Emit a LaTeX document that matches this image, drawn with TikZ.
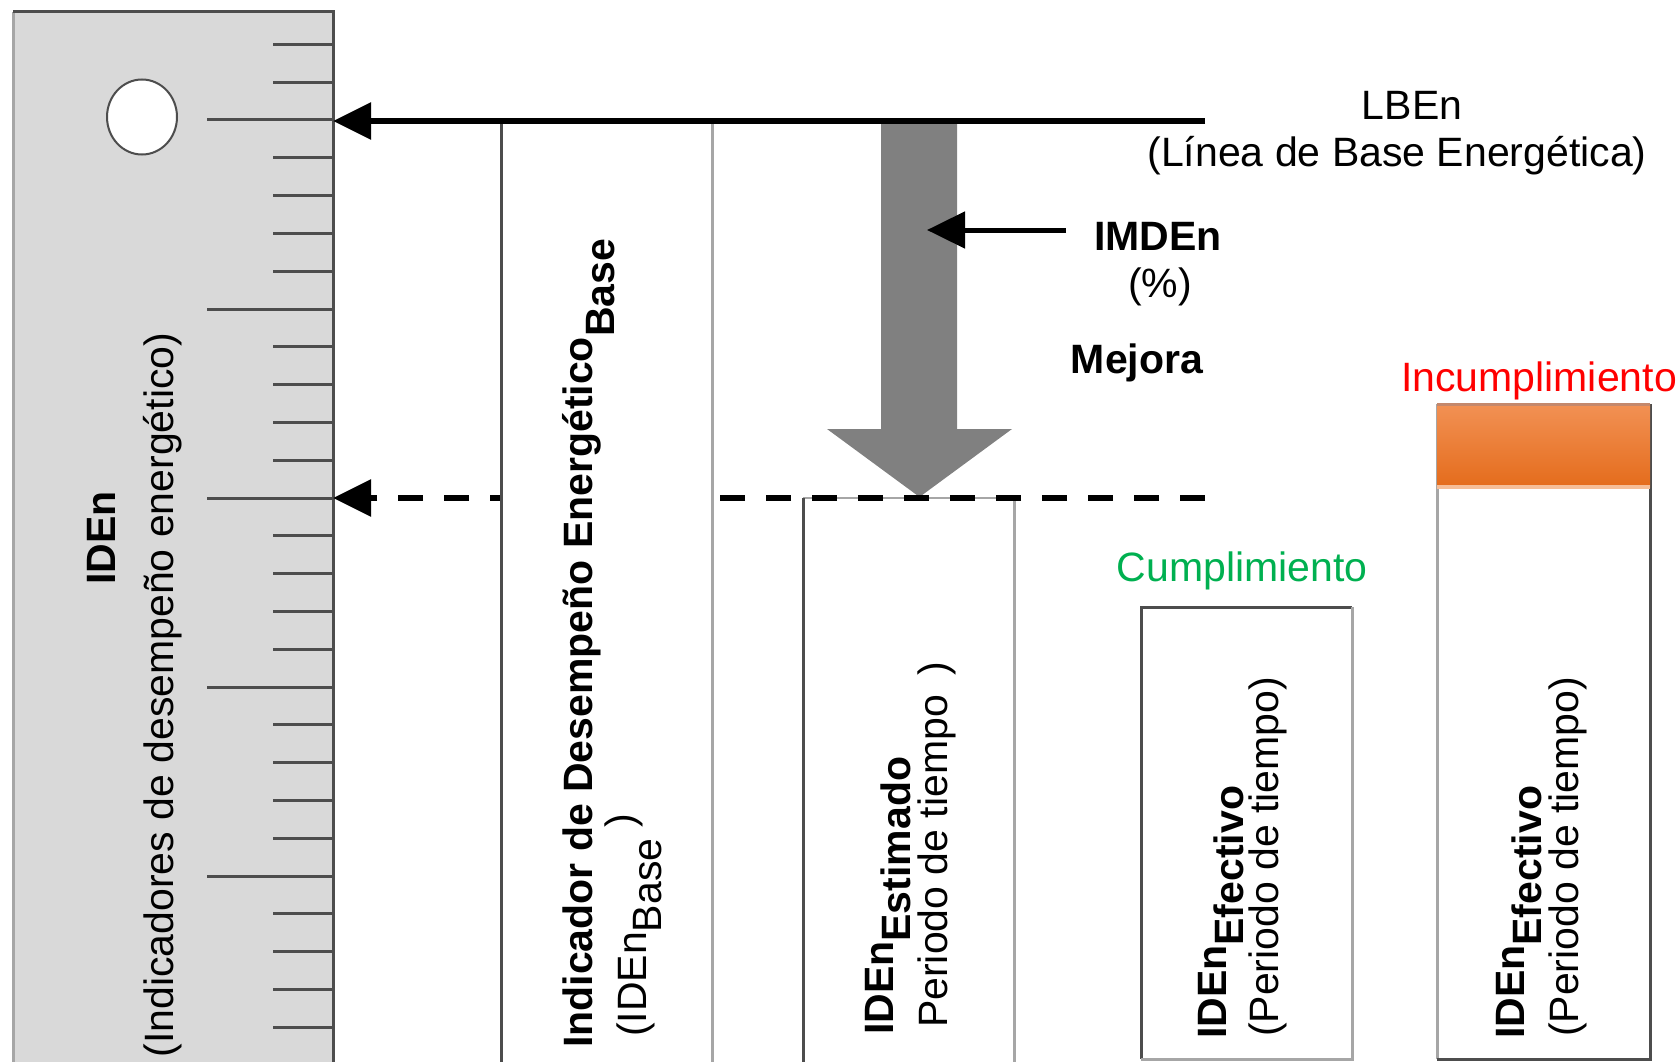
\documentclass[tikz,border=0pt]{standalone}
\usepackage{fontspec}
\setmainfont{Liberation Sans}
\usetikzlibrary{arrows.meta,calc,positioning,shapes.geometric}
\definecolor{rulergray}{HTML}{D9D9D9}
\definecolor{edgedark}{HTML}{4D4D4D}
\definecolor{edgelight}{HTML}{A6A6A6}
\definecolor{okgreen}{HTML}{00B050}
\definecolor{orangetop}{HTML}{F29154}
\definecolor{orangebot}{HTML}{E46C1C}
\definecolor{orangeedge}{HTML}{C4886C}
\definecolor{orangestripe}{HTML}{F6BE98}
\newcommand{\lowtxt}[2][15pt]{\raisebox{-#1}{#2}}
\tikzset{
	lbl/.style={font=\fontsize{41}{49}\selectfont,inner sep=0pt},
	vlbl/.style={lbl,rotate=90,anchor=base west},
	colbox/.style={fill=white,inner sep=0pt,outer sep=0pt,anchor=north west},
	darkedge/.style={draw=edgedark,line width=3pt},
	lightedge/.style={draw=edgelight,line width=3pt},
	rulertick/.style={draw=edgedark,line width=3pt},
	fatarrow/.style={line width=6pt,-{Triangle[length=38pt,width=36pt]}},
}

\begin{document}
\begin{tikzpicture}[x=1pt,y=-1pt]
	\useasboundingbox (0,0) rectangle (1680,1062);
	% ruler
	\node (ruler) at (13,12) [fill=rulergray,inner sep=0pt,outer sep=0pt,anchor=north west,minimum width=320pt,minimum height=1070pt] {};
	\draw[lightedge] (ruler.north west) -- (ruler.south west);
	\draw[darkedge] (ruler.south east) -- (ruler.north east) -- (ruler.north west);
	\foreach \i in {0,...,26}{
		\pgfmathsetmacro{\ty}{44.4+37.8*\i}
		\pgfmathsetmacro{\tx}{ifthenelse(mod(\i+3,5)==0,207,273)}
		\draw[rulertick] (\tx,\ty) -- (333,\ty);
	}
	\node (hole) at (142,117) [ellipse,draw=edgedark,line width=2pt,fill=white,minimum width=70pt,minimum height=75pt,inner sep=0pt] {};
	\node (idenlbl) at (101,538) [lbl,rotate=90] {\bfseries IDEn};
	\node (idenlong) at (163,695) [lbl,rotate=90] {(Indicadores de desempeño energético)};
	% columns
	\node (colest) at (803,498) [colbox,minimum width=211pt,minimum height=600pt] {};
	\draw[lightedge,line width=2pt] (colest.north west) -- (colest.north east);
	\draw[darkedge] (colest.north west) -- (colest.south west);
	\draw[lightedge] (colest.north east) -- (colest.south east);
	\node (colok) at (1141,607) [colbox,minimum width=211pt,minimum height=452pt] {};
	\draw[darkedge] (colok.north east) -- (colok.north west) -- (colok.south west);
	\draw[lightedge] (colok.north east) -- (colok.south east) -- (colok.south west);
	\node (colfail) at (1437,404) [colbox,minimum width=213pt,minimum height=655pt] {};
	\draw[lightedge] (colfail.north west) -- (colfail.south west);
	\draw[darkedge] (colfail.north east) -- (colfail.south east) -- (colfail.south west);
	\node (excess) at (1437,404) [anchor=north west,inner sep=0pt,outer sep=0pt,minimum width=213pt,minimum height=83pt,top color=orangetop,bottom color=orangebot] {};
	\draw[orangestripe,line width=4pt] (excess.south west) -- (excess.south east);
	\draw[orangeedge,line width=3pt] (excess.north west) -- (excess.north east);
	% gray arrow
	\fill[black!50] (881,123) -- (957,123) -- (957,429) -- (1012,429) -- (919.5,497) -- (827,429) -- (881,429) -- cycle;
	\coordinate (dashend) at (1205,498);
	\draw[fatarrow,dash pattern=on 25pt off 21pt] (dashend) -- (dashend -| ruler.east);
	\node (colbase) at (501,124) [colbox,minimum width=211pt,minimum height=960pt] {};
	\draw[darkedge] (colbase.north west) -- (colbase.south west);
	\draw[lightedge] (colbase.north east) -- (colbase.south east);
	\coordinate (lbenend) at (1205,121);
	\draw[fatarrow] (lbenend) -- (lbenend -| ruler.east);
	\coordinate (imdstart) at (1066,230);
	\coordinate (imdtip) at (927,230);
	\draw[fatarrow,line width=5pt] (imdstart) -- (imdtip);
	% labels
	\node (lben) at (1412,120) [lbl,anchor=base] {LBEn};
	\node (lbenlong) at (1397,166) [lbl,anchor=base] {(Línea de Base Energética)};
	\node (imden) at (1158,250) [lbl,anchor=base] {\bfseries IMDEn};
	\node (pct) at (1160,297) [lbl,anchor=base] {(\%)};
	\node (mejora) at (1137,373) [lbl,anchor=base] {\bfseries Mejora};
	\node (incumpl) at (1539,391) [lbl,anchor=base,text=red] {Incumplimiento};
	\node (cumpl) at (1242,581) [lbl,anchor=base,text=okgreen] {Cumplimiento};
	\node (baseA) at (592,1048) [vlbl] {\bfseries Indicador de Desempeño Energético\lowtxt[22pt]{Base}};
	\node (baseB) at (646,1037) [vlbl] {(IDEn\lowtxt{Base} \raisebox{12pt}{)}};
	\node (estA) at (893,1035) [vlbl] {\bfseries IDEn\lowtxt[17pt]{Estimado}};
	\node (estB) at (947,1028) [vlbl] {Periodo de tiempo\hspace{20pt})};
	\node (okA) at (1226,1039) [vlbl] {\bfseries IDEn\lowtxt[17pt]{Efectivo}};
	\node (okB) at (1278,1037) [vlbl] {(Periodo de tiempo)};
	\node (failA) at (1524,1039) [vlbl] {\bfseries IDEn\lowtxt[17pt]{Efectivo}};
	\node (failB) at (1578,1037) [vlbl] {(Periodo de tiempo)};
\end{tikzpicture}
\end{document}
